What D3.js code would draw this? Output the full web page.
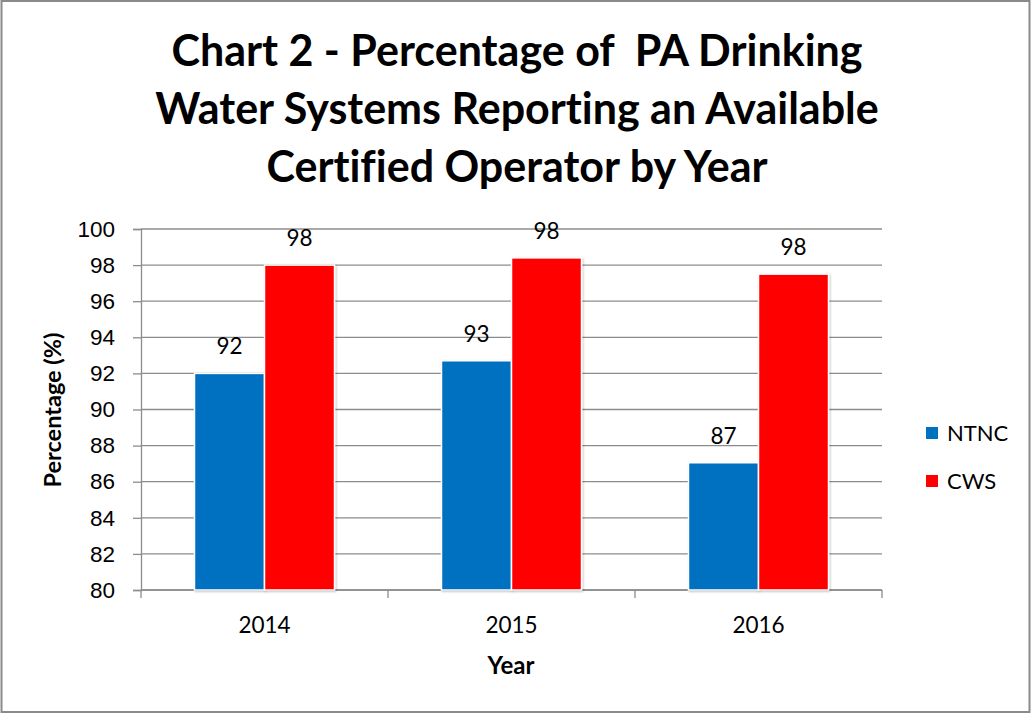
<!DOCTYPE html>
<html>
<head>
<meta charset="utf-8">
<script src="https://cdn.jsdelivr.net/npm/d3@7"></script>
<style>
  html, body { margin: 0; padding: 0; background: #fff; }
  svg { display: block; font-family: Lato, Carlito, Calibri, "Open Sans", sans-serif; }
  text { white-space: pre; }
</style>
</head>
<body>
<svg id="chart" width="1035" height="714"></svg>
<script>
// Chart data
const years = ["2014", "2015", "2016"];
const seriesNames = ["NTNC", "CWS"];
const ntncValues = [92.0, 92.7, 87.05];
const cwsValues = [98.0, 98.4, 97.5];
const seriesColors = ["#0070C0", "#FF0000"];
const yTicks = [80, 82, 84, 86, 88, 90, 92, 94, 96, 98, 100];
const titleLines = [
  "Chart 2 - Percentage of  PA Drinking",
  "Water Systems Reporting an Available",
  "Certified Operator by Year"
];

const svg = d3.select("#chart");
const plot = { left: 141, right: 882, top: 229, bottom: 590 };

// outer frame
svg.append("rect")
  .attr("x", 1.5).attr("y", 1).attr("width", 1028).attr("height", 711)
  .attr("fill", "#fff").attr("stroke", "#8a8a8a").attr("stroke-width", 2);

// soft shadow for the bars
const defs = svg.append("defs");
const f = defs.append("filter").attr("id", "barShadow")
  .attr("x", "-10%").attr("y", "-10%").attr("width", "120%").attr("height", "120%");
f.append("feDropShadow").attr("dx", 1).attr("dy", 1).attr("stdDeviation", 1.2)
  .attr("flood-color", "#000").attr("flood-opacity", 0.25);

// title
svg.append("g").selectAll("text").data(titleLines).join("text")
  .attr("x", 517).attr("y", (d, i) => 66 + i * 58)
  .attr("text-anchor", "middle")
  .attr("font-size", 43).attr("font-weight", 700).attr("fill", "#000")
  .style("font-variant-ligatures", "none")
  .text(d => d);

// scales
const x0 = d3.scaleBand().domain(years).range([plot.left, plot.right]).padding(0);
const x1 = d3.scaleBand().domain(seriesNames).range([0, x0.bandwidth()])
  .paddingInner(0).paddingOuter(0.764);
const y = d3.scaleLinear().domain([80, 100]).range([plot.bottom, plot.top]);
const color = d3.scaleOrdinal().domain(seriesNames).range(seriesColors);

// gridlines
svg.append("g").selectAll("line").data(yTicks).join("line")
  .attr("x1", plot.left).attr("x2", plot.right)
  .attr("y1", d => y(d)).attr("y2", d => y(d))
  .attr("stroke", "#8c8c8c").attr("stroke-width", 1.3);

// y axis
const yAxis = svg.append("g").attr("transform", `translate(${plot.left},0)`)
  .call(d3.axisLeft(y).tickValues(yTicks).tickSize(8).tickPadding(18).tickFormat(d3.format("d")));
yAxis.select(".domain").attr("stroke", "#8c8c8c").attr("stroke-width", 1.3);
yAxis.selectAll(".tick line").attr("stroke", "#8c8c8c").attr("stroke-width", 1.3);
yAxis.selectAll(".tick text").attr("font-size", 22.5).attr("fill", "#000")
  .attr("font-family", null);

// x axis: ticks sit on category boundaries
const xAxisG = svg.append("g").attr("transform", `translate(0,${plot.bottom})`);
xAxisG.append("line").attr("x1", plot.left).attr("x2", plot.right)
  .attr("stroke", "#8c8c8c").attr("stroke-width", 1.3);
const boundaries = years.map(d => x0(d)).concat([x0(years[years.length - 1]) + x0.bandwidth()]);
xAxisG.selectAll("line.tk").data(boundaries).join("line").attr("class", "tk")
  .attr("x1", d => d).attr("x2", d => d).attr("y1", 0).attr("y2", 8)
  .attr("stroke", "#8c8c8c").attr("stroke-width", 1.3);
xAxisG.selectAll("text").data(years).join("text")
  .attr("x", d => x0(d) + x0.bandwidth() / 2).attr("y", 43)
  .attr("text-anchor", "middle").attr("font-size", 22.5).attr("fill", "#000")
  .text(d => d);

// bars
const rows = years.map((yr, i) => ({ year: yr, NTNC: ntncValues[i], CWS: cwsValues[i] }));
const groups = svg.append("g").selectAll("g").data(rows).join("g")
  .attr("transform", d => `translate(${x0(d.year)},0)`);
const bars = groups.selectAll("g").data(d => seriesNames.map(k => ({ key: k, value: d[k] }))).join("g");
bars.append("rect")
  .attr("x", d => x1(d.key)).attr("width", x1.bandwidth())
  .attr("y", d => y(d.value)).attr("height", d => y(80) - y(d.value))
  .attr("fill", d => color(d.key))
  .attr("stroke", "#fff").attr("stroke-width", 1.5)
  .attr("filter", "url(#barShadow)");
bars.append("text")
  .attr("x", d => x1(d.key) + x1.bandwidth() / 2)
  .attr("y", d => y(d.value) - 19)
  .attr("text-anchor", "middle").attr("font-size", 22.5).attr("fill", "#000")
  .text(d => d3.format(".0f")(d.value));

// axis titles
svg.append("text").attr("x", 511).attr("y", 674)
  .attr("text-anchor", "middle").attr("font-size", 24).attr("font-weight", 700)
  .text("Year");
svg.append("text")
  .attr("transform", "translate(61,410) rotate(-90)")
  .attr("text-anchor", "middle").attr("font-size", 23.5).attr("font-weight", 700)
  .text("Percentage (%)");

// legend
const legend = svg.append("g").selectAll("g").data(seriesNames).join("g")
  .attr("transform", (d, i) => `translate(926,${433 + i * 48})`);
legend.append("rect").attr("x", 0).attr("y", -6).attr("width", 12).attr("height", 12)
  .attr("fill", d => color(d));
legend.append("text").attr("x", 21).attr("y", 0).attr("dy", "0.36em")
  .attr("font-size", 22).attr("fill", "#000").text(d => d);
</script>
</body>
</html>
